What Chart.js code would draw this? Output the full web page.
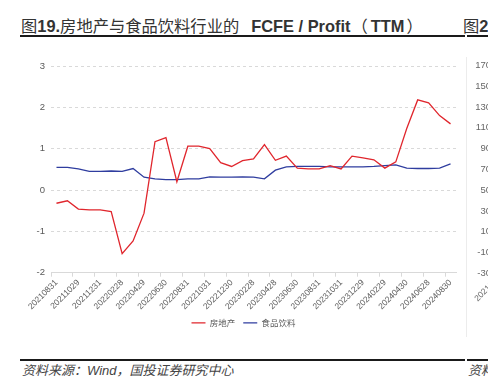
<!DOCTYPE html>
<html>
<head>
<meta charset="utf-8">
<script src="https://cdn.jsdelivr.net/npm/chart.js@4.4.7/dist/chart.umd.min.js"></script>
<style>
  html, body { margin: 0; padding: 0; background: #fff; }
  body { width: 488px; height: 392px; position: relative; overflow: hidden; font-family: "Liberation Sans", "Noto Sans CJK SC", sans-serif; }
  .abs { position: absolute; white-space: nowrap; }
  .title { top: 17px; font-size: 16.4px; line-height: 16px; color: #333; font-weight: 700; }
  .title .cjk { font-weight: 400; font-size: 16.3px; font-family: "Noto Sans CJK SC", sans-serif; }
  .rule { position: absolute; height: 1.5px; background: #1a1a1a; }
  .source { top: 363px; font-size: 13px; line-height: 16px; color: #444; font-style: italic; }
  .rtick { font-size: 9.5px; color: #666; width: 40px; text-align: right; line-height: 10px; }
  #chart-box { position: absolute; left: 0; top: 40px; width: 488px; height: 300px; }
</style>
</head>
<body>
  <div class="abs title" style="left:21px"><span class="cjk">图</span>19.<span class="cjk">房地产与食品饮料行业的</span><span style="margin-left:12px">FCFE / Profit</span><span class="cjk" style="margin-left:1px">（</span><span style="margin-left:3px">TTM</span><span class="cjk" style="margin-left:2px">）</span></div>
  <div class="abs title" style="left:463px"><span class="cjk">图</span>20</div>
  <div class="rule" style="left:20px; width:445px; top:35px"></div>
  <div class="rule" style="left:467px; width:21px; top:35px"></div>

  <div id="chart-box"><canvas id="chart" width="488" height="300"></canvas></div>

  <div class="abs" style="left:466px; top:57px; width:1px; height:280px; background:#ececec"></div>
  <div id="right-ticks"></div>
  <div class="abs" style="left:472px; top:296px; font-size:8.5px; color:#666; transform:rotate(-45deg); transform-origin:left top">20210831</div>

  <div class="rule" style="left:20px; width:445px; top:359px"></div>
  <div class="rule" style="left:467px; width:21px; top:359px"></div>
  <div class="abs source" style="left:22px">资料来源：Wind，国投证券研究中心</div>
  <div class="abs source" style="left:468px">资料来源</div>

<script>
  const dates = [
    "20210831", "20210930", "20211029", "20211130", "20211231",
    "20220128", "20220228", "20220331", "20220429", "20220531", "20220630", "20220729",
    "20220831", "20220930", "20221031", "20221130", "20221230",
    "20230131", "20230228", "20230331", "20230428", "20230531", "20230630", "20230731",
    "20230831", "20230928", "20231031", "20231130", "20231229",
    "20240131", "20240229", "20240329", "20240430", "20240531", "20240628", "20240731", "20240830"
  ]

  const realEstate = [
    -0.32, -0.26, -0.46, -0.48, -0.48, -0.52, -1.54, -1.23, -0.56, 1.17, 1.27, 0.20,
    1.06, 1.06, 1.00, 0.66, 0.57, 0.71, 0.75, 1.10, 0.72, 0.82, 0.53, 0.51,
    0.51, 0.59, 0.51, 0.82, 0.78, 0.73, 0.53, 0.68, 1.49, 2.18, 2.11, 1.80, 1.60
  ]

  const foodBev = [
    0.55, 0.55, 0.51, 0.45, 0.45, 0.46, 0.45, 0.52, 0.31, 0.27, 0.25, 0.25,
    0.27, 0.27, 0.32, 0.31, 0.31, 0.32, 0.31, 0.27, 0.48, 0.56, 0.57, 0.57,
    0.57, 0.56, 0.56, 0.56, 0.56, 0.57, 0.59, 0.61, 0.53, 0.52, 0.52, 0.53, 0.63
  ]

  const yTicks = { min: -2, max: 3, step: 1 }

  // the neighbouring figure is cut off at the right edge of the page
  const rightPanelTicks = ["170", "150", "130", "110", "90", "70", "50", "30", "10", "-10", "-30"]

  const tickBox = document.getElementById("right-ticks")
  rightPanelTicks.forEach((label, i) => {
    const el = document.createElement("div")
    el.className = "abs rtick"
    el.style.left = "451px"
    el.style.top = (60 + i * 20.8) + "px"
    el.textContent = label
    tickBox.appendChild(el)
  })

  const gridGrey = "#d9d9d9"
  const labelGrey = "#595959"

  new Chart(document.getElementById("chart"), {
    type: "line",
    data: {
      labels: dates,
      datasets: [
        {
          label: "房地产",
          data: realEstate,
          borderColor: "#e0262d",
          backgroundColor: "#e0262d",
          borderWidth: 1.3,
          pointRadius: 0,
          tension: 0
        },
        {
          label: "食品饮料",
          data: foodBev,
          borderColor: "#2f3d9f",
          backgroundColor: "#2f3d9f",
          borderWidth: 1.3,
          pointRadius: 0,
          tension: 0
        }
      ]
    },
    options: {
      responsive: false,
      animation: false,
      devicePixelRatio: 1,
      layout: { padding: { left: 31, right: 32, top: 26, bottom: 2.8 } },
      plugins: {
        tooltip: { enabled: false },
        legend: {
          position: "bottom",
          labels: {
            usePointStyle: true,
            pointStyle: "line",
            pointStyleWidth: 14,
            padding: 8,
            color: labelGrey,
            font: { family: "'Noto Sans CJK SC', sans-serif", size: 8.5 }
          }
        }
      },
      scales: {
        x: {
          type: "category",
          offset: true,
          afterFit: (scale) => { scale.height = 38 },
          grid: {
            display: true,
            offset: true,
            drawOnChartArea: false,
            drawTicks: true,
            tickLength: 4,
            color: (ctx) => ctx.index % 2 === 0 ? gridGrey : "rgba(0,0,0,0)"
          },
          border: { display: true, color: gridGrey, width: 1 },
          ticks: {
            autoSkip: false,
            maxRotation: 45,
            minRotation: 45,
            padding: 1,
            color: labelGrey,
            font: { family: "'Liberation Sans', sans-serif", size: 8.5 },
            callback: function(value, index) {
              return index % 2 === 0 ? this.getLabelForValue(value) : ""
            }
          }
        },
        y: {
          min: yTicks.min,
          max: yTicks.max,
          afterFit: (scale) => { scale.width = 20 },
          grid: { color: gridGrey, drawTicks: false },
          border: { display: false, dash: [3, 3] },
          ticks: {
            stepSize: yTicks.step,
            padding: 6,
            color: labelGrey,
            font: { family: "'Liberation Sans', sans-serif", size: 9.5 }
          }
        }
      }
    }
  })
</script>
</body>
</html>
